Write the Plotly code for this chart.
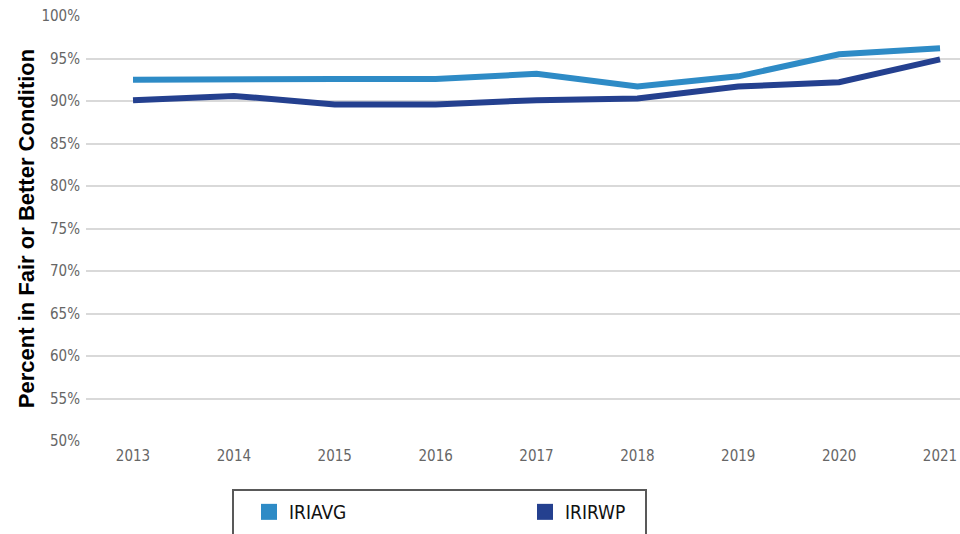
import plotly.graph_objects as go

# Pavement condition by year (share of network in fair or better condition)
years = [2013, 2014, 2015, 2016, 2017, 2018, 2019, 2020, 2021]
iriavg = [92.5, 92.6, 92.6, 92.6, 93.2, 91.7, 92.9, 95.5, 96.2]
irirwp = [90.1, 90.6, 89.6, 89.6, 90.1, 90.3, 91.7, 92.2, 94.9]
series_names = ["IRIAVG", "IRIRWP"]
series_colors = ["#2E8BC6", "#24408F"]
y_ticks = [50, 55, 60, 65, 70, 75, 80, 85, 90, 95, 100]

NARROW = "DejaVu Sans Condensed, Liberation Sans Narrow, sans-serif"

fig = go.Figure()
for name, vals, color in zip(series_names, [iriavg, irirwp], series_colors):
    fig.add_trace(go.Scatter(
        x=years, y=vals, mode="lines", name=name,
        line=dict(color=color, width=6),
        showlegend=False,
    ))
    # square swatch for the legend
    fig.add_trace(go.Scatter(
        x=[None], y=[None], mode="markers", name=name,
        marker=dict(symbol="square", size=16, color=color),
        showlegend=True,
    ))

# legend frame (runs off the bottom edge of the page)
fig.add_shape(
    type="rect", xref="paper", yref="paper",
    x0=(233 - 86) / 874, x1=(646 - 86) / 874,
    y0=(441 - 490) / 425, y1=(441 - 560) / 425,
    line=dict(color="#595959", width=2), fillcolor="rgba(0,0,0,0)",
    layer="above",
)

fig.update_layout(
    width=960, height=534,
    margin=dict(l=86, r=0, t=16, b=93),
    paper_bgcolor="white", plot_bgcolor="white",
    font=dict(family=NARROW, color="#666666"),
    xaxis=dict(
        range=[2012.534, 2021.198],
        tickmode="array", tickvals=years, ticktext=[str(y) for y in years],
        showgrid=False, zeroline=False, showline=False,
        tickfont=dict(size=15, color="#666666", family=NARROW),
        ticks="", ticklabelstandoff=4,
    ),
    yaxis=dict(
        range=[50, 100],
        tickmode="array", tickvals=y_ticks,
        ticktext=[f"{v}%" for v in y_ticks],
        showgrid=True, gridcolor="#D9D9D9", gridwidth=2,
        zeroline=False, showline=False,
        tickfont=dict(size=15, color="#666666", family=NARROW),
        ticks="", ticklabelstandoff=5,
        title=dict(
            text="<b>Percent in Fair or Better Condition</b>",
            font=dict(size=22, color="#000000", family="Liberation Sans, Arial, sans-serif"),
            standoff=0,
        ),
    ),
    legend=dict(
        orientation="h",
        x=(249 - 86) / 874, xanchor="left",
        y=(441 - 493) / 425, yanchor="top",
        borderwidth=0,
        bgcolor="rgba(0,0,0,0)",
        font=dict(size=19, color="#111111", family=NARROW),
        entrywidth=231, entrywidthmode="pixels",
        itemsizing="trace",
    ),
)

fig.write_html("out.html")
